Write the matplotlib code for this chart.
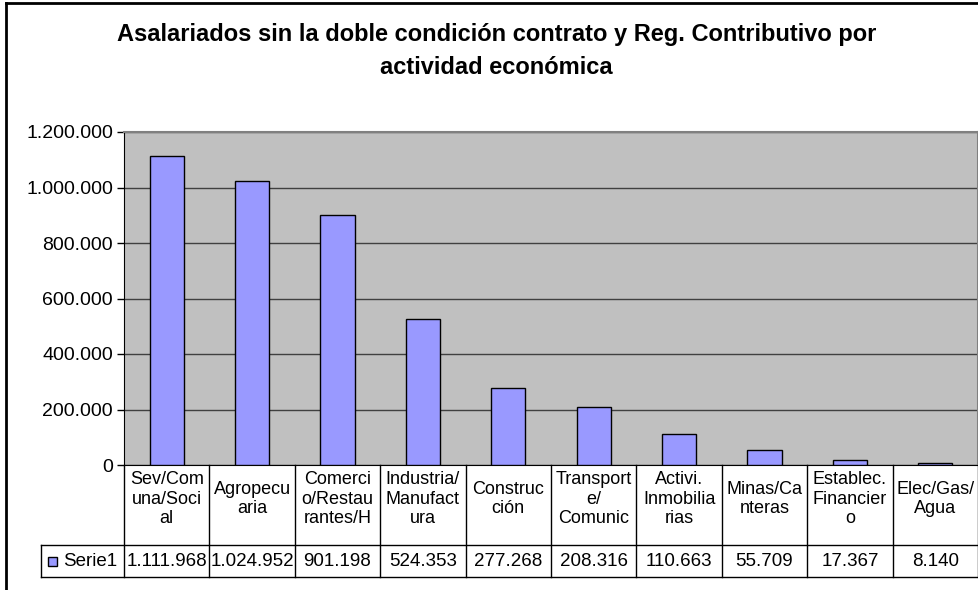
import matplotlib.pyplot as plt
from matplotlib.transforms import blended_transform_factory
from matplotlib.patches import Rectangle

plt.rcParams['font.family'] = ['Liberation Sans', 'DejaVu Sans']

titulo = "Asalariados sin la doble condición contrato y Reg. Contributivo por\nactividad económica"
categorias = ["Sev/Com\nuna/Soci\nal", "Agropecu\naria", "Comerci\no/Restau\nrantes/H",
              "Industria/\nManufact\nura", "Construc\nción", "Transport\ne/\nComunic",
              "Activi.\nInmobilia\nrias", "Minas/Ca\nnteras", "Establec.\nFinancier\no",
              "Elec/Gas/\nAgua"]
valores = [1111968, 1024952, 901198, 524353, 277268, 208316, 110663, 55709, 17367, 8140]
serie = "Serie1"
yticks = [0, 200000, 400000, 600000, 800000, 1000000, 1200000]

def fmt(v):
    return f"{v:,}".replace(",", ".")

W, H = 979, 590
fig = plt.figure(figsize=(W / 100, H / 100), dpi=100)

# outer chart border
fig.add_artist(plt.Line2D([6 / W, 6 / W], [0, 1 - 3 / H], color='black', lw=2))
fig.add_artist(plt.Line2D([6 / W, 1], [1 - 3 / H, 1 - 3 / H], color='black', lw=2))

left, right, top, bottom = 124, 978, 132, 465
ax = fig.add_axes([left / W, 1 - bottom / H, (right - left) / W, (bottom - top) / H])
ax.set_facecolor('#C0C0C0')

x = list(range(len(valores)))
ax.bar(x, valores, width=0.4, color='#9999FF', edgecolor='black', linewidth=1, zorder=3)

ax.set_xlim(-0.5, len(valores) - 0.5)
ax.set_ylim(0, 1200000)
ax.set_yticks(yticks)
ax.set_yticklabels([fmt(v) for v in yticks], fontsize=14)
ax.set_xticks([])
ax.yaxis.grid(True, color='#404040', linewidth=1)
ax.set_axisbelow(True)
ax.tick_params(axis='y', length=5, width=1, pad=3, color='black')
for s in ['top', 'right']:
    ax.spines[s].set_color('#808080')
    ax.spines[s].set_linewidth(1.5)
ax.spines['left'].set_color('black')
ax.spines['bottom'].set_color('black')

fig.text(0.507, 1 - 51 / H, titulo, ha='center', va='center', fontsize=17,
         fontweight='bold', linespacing=1.5)

# data table under the axis
tr = blended_transform_factory(ax.transData, ax.transAxes)
h = bottom - top
y_head = (bottom - 545) / h
y_val = (bottom - 577) / h
y_lab = (bottom - 499) / h
x_leg = -0.5 + (41 - left) / ((right - left) / len(valores))
n = len(valores)
lk = dict(color='black', lw=1, transform=tr, clip_on=False)
for i in range(n + 1):
    ax.add_line(plt.Line2D([i - 0.5, i - 0.5], [0, y_val], **lk))
ax.add_line(plt.Line2D([x_leg, n - 0.5], [y_head, y_head], **lk))
ax.add_line(plt.Line2D([x_leg, n - 0.5], [y_val, y_val], **lk))
ax.add_line(plt.Line2D([x_leg, x_leg], [y_head, y_val], **lk))

for i, (c, v) in enumerate(zip(categorias, valores)):
    ax.text(i, y_lab, c, ha='center', va='center', fontsize=13,
            linespacing=1.22, transform=tr, clip_on=False)
    ax.text(i, (y_head + y_val) / 2, fmt(v), ha='center', va='center',
            fontsize=13.5, transform=tr, clip_on=False)

# legend key in table
fig.add_artist(Rectangle((48 / W, 1 - 566 / H), 9 / W, 9 / H, facecolor='#9999FF',
                         edgecolor='black', lw=1))
fig.text(63 / W, 1 - 561 / H, serie, ha='left', va='center', fontsize=13.5)

fig.savefig("out.png", dpi=100)
